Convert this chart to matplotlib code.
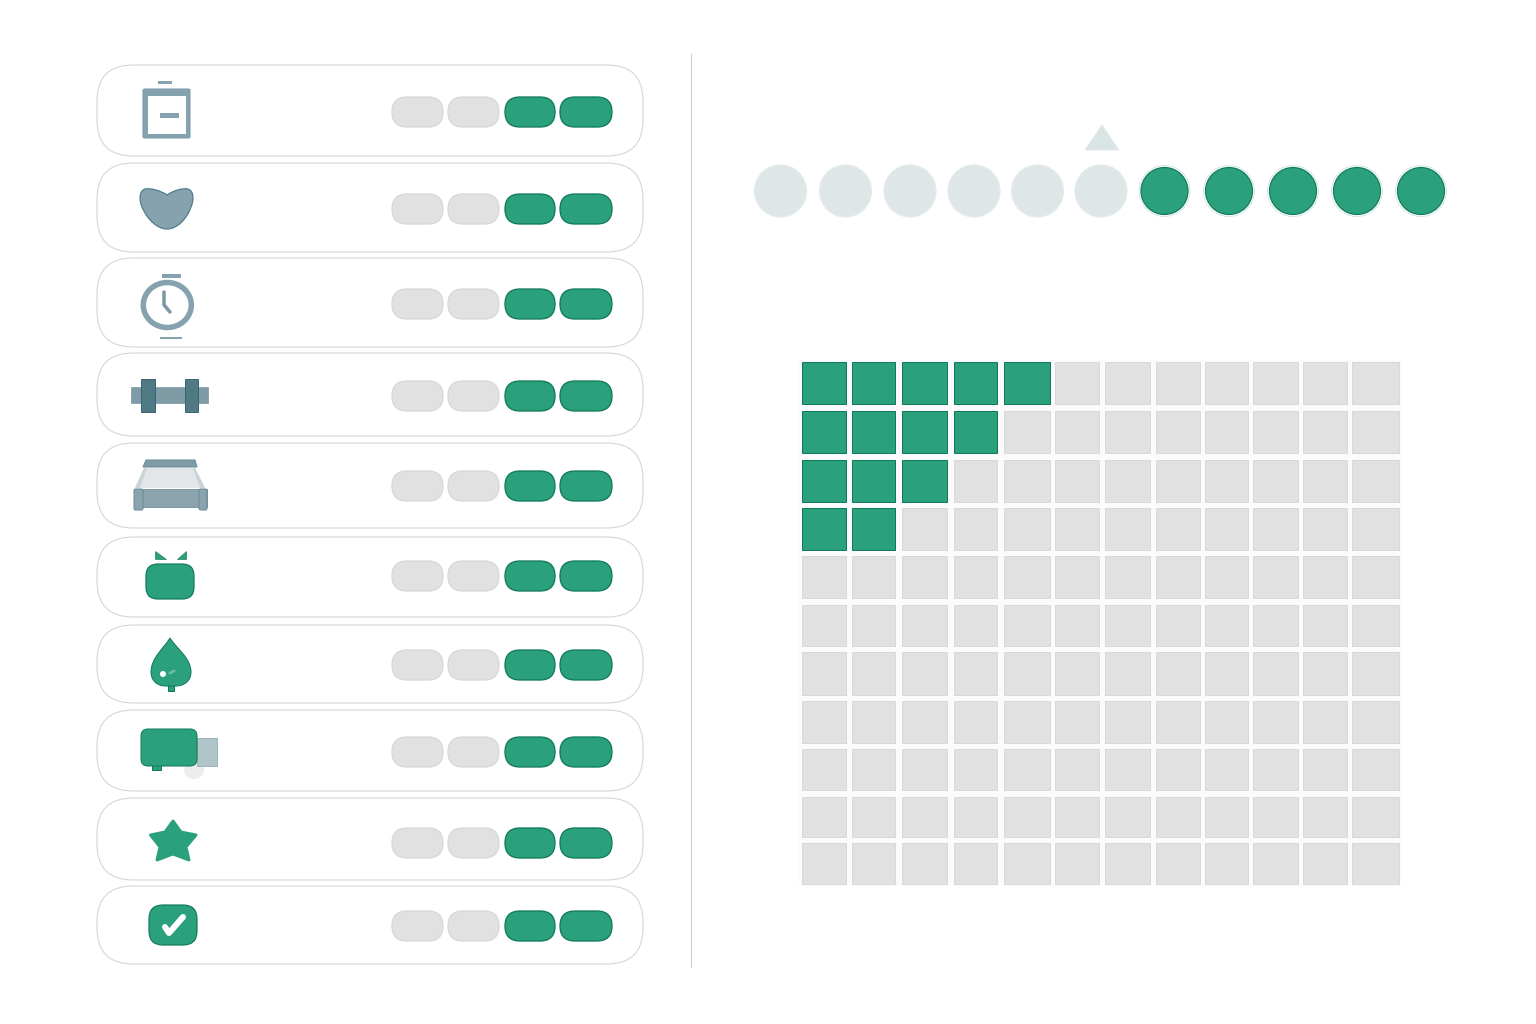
import matplotlib
matplotlib.use('Agg')
import matplotlib.pyplot as plt
from matplotlib.patches import Circle, FancyBboxPatch, PathPatch, Polygon, Rectangle, Ellipse
from matplotlib.path import Path

# rows of the left panel: state of each pill (0 = empty, 1 = filled)
pill_states = [0, 0, 1, 1]
n_rows = 10

# dot strip: 6 empty then 5 filled, marker above the last empty one
dot_states = [0, 0, 0, 0, 0, 0, 1, 1, 1, 1, 1]
marker_index = 5

# filled cells per row in the waffle grid
waffle_filled = [5, 4, 3, 2, 0, 0, 0, 0, 0, 0, 0]
waffle_cols = 12

# layout, in reference pixels
card_tops = [65, 163, 258, 353, 443, 537, 625, 710, 798, 886]
card_bottoms = [156, 252, 347, 436, 528, 617, 703, 791, 880, 964]
pill_centers = [112, 209, 304, 396, 486, 576, 665, 752, 843, 926]
pill_lefts = [392, 448, 505, 560]
pill_rights = [443, 499, 555, 612]
dot_xs = [780.5, 845.5, 910, 974, 1037.5, 1101, 1164.5, 1229, 1293, 1357, 1421]
col_lefts = [801.5, 852, 901.5, 954, 1003.5, 1055, 1105, 1156, 1205, 1253, 1303, 1352]
col_rights = [845.5, 895, 946.5, 997, 1049.5, 1099, 1150, 1200, 1248, 1298, 1347, 1399]
row_tops = [362, 411, 460, 508, 556, 605, 652, 701, 749, 797, 843]
row_bottoms = [404, 453, 501.5, 550, 598, 646, 695, 743, 790, 837, 884]

GREEN = '#2ba07d'
GREEN_EDGE = '#0f7a5a'
GREY = '#e1e1e1'
GREY_EDGE = '#d8d8d8'
SLATE = '#86a2ae'
SLATE_EDGE = '#7b99a5'
DARK_SLATE = '#527b87'
PALE = '#dfe6e8'
PX = 0.72  # one pixel in points at dpi=100

fig = plt.figure(figsize=(15.36, 10.24), dpi=100)
ax = fig.add_axes([0, 0, 1, 1])
ax.set_xlim(0, 1536)
ax.set_ylim(1024, 0)
ax.axis('off')


def rounded(x0, y0, x1, y1, r, fc, ec, lw=1.0, **kw):
    ax.add_patch(FancyBboxPatch((x0 + r, y0 + r), x1 - x0 - 2 * r, y1 - y0 - 2 * r,
                                boxstyle='round,pad=%f,rounding_size=%f' % (r, r),
                                fc=fc, ec=ec, lw=lw * PX, **kw))


def rect(x0, y0, x1, y1, fc, ec='none', lw=1.0):
    ax.add_patch(Rectangle((x0, y0), x1 - x0, y1 - y0, fc=fc, ec=ec, lw=lw * PX))


def poly(points, fc, ec='none', lw=1.0, **kw):
    ax.add_patch(Polygon(points, closed=True, fc=fc, ec=ec, lw=lw * PX, **kw))


def curve(verts, codes, fc, ec, lw=1.0):
    ax.add_patch(PathPatch(Path(verts, codes), fc=fc, ec=ec, lw=lw * PX))


M, L, C4, Z = Path.MOVETO, Path.LINETO, Path.CURVE4, Path.CLOSEPOLY


def icon_box():
    rounded(143, 89, 190, 138, 1.5, SLATE, SLATE_EDGE)
    rect(148, 96, 186, 134, 'white')
    rect(160, 113, 179, 118, SLATE)
    rect(158, 81, 172, 83.5, SLATE)


def icon_heart():
    verts = [(167, 195), (160, 190), (150, 188), (145, 189),
             (139, 191), (139, 200), (142, 207),
             (147, 219), (157, 229), (167, 229),
             (177, 229), (187, 219), (191, 207),
             (194, 200), (194, 191), (188, 189),
             (183, 188), (174, 190), (167, 195), (167, 195)]
    codes = [M, C4, C4, C4, C4, C4, C4, C4, C4, C4, C4, C4, C4, C4, C4, C4, C4, C4, C4, Z]
    curve(verts, codes, SLATE, '#4f7a88', 1.2)


def icon_clock():
    ax.add_patch(Ellipse((167.3, 305), 48, 45, fc='white', ec=SLATE, lw=5.5 * PX))
    rect(162, 274, 181, 278, SLATE)
    rect(160, 337, 182, 339, SLATE)
    ax.plot([164, 164, 170], [292, 305, 312], color=SLATE_EDGE, lw=3.5 * PX,
            solid_capstyle='round', solid_joinstyle='round')


def icon_dumbbell():
    rect(131, 387, 208, 403, '#7f9ba5', '#6f8e99', 0.6)
    rect(141, 379, 155, 412, '#4f7a84', '#3d6673')
    rect(185, 379, 198, 412, '#4f7a84', '#3d6673')


def icon_bed():
    poly([(144, 468), (195, 468), (205, 488), (135, 488)], '#e2e6e8')
    poly([(146, 460), (195, 460), (197, 467), (143, 467)], '#7f9ba6', '#6a8d9a')
    poly([(144, 468), (147, 468), (140, 488), (135, 488)], '#c9d3d6')
    poly([(195, 468), (193, 468), (200, 488), (205, 488)], '#c9d3d6')
    rect(134, 489, 207, 507, '#8aa3ad', SLATE_EDGE)
    rounded(134, 489, 143, 510, 1.5, '#8aa3ad', '#6a8d9a')
    rounded(199, 489, 207, 510, 1.5, '#8aa3ad', '#6a8d9a')


def icon_tv():
    rounded(146, 564, 194, 599, 12, GREEN, GREEN_EDGE, 1.2)
    poly([(155, 551), (155, 559), (166, 559)], GREEN, GREEN_EDGE, 0.6)
    poly([(186, 551), (186, 559), (177, 559)], GREEN, GREEN_EDGE, 0.6)


def icon_drop():
    rect(168, 682, 174, 691, GREEN, GREEN_EDGE)
    verts = [(170, 638), (164, 648), (151, 658), (151, 672),
             (151, 681), (158, 686), (165, 686),
             (168, 686), (172, 686), (176, 686),
             (184, 686), (191, 681), (191, 672),
             (191, 658), (176, 648), (170, 638), (170, 638)]
    codes = [M, C4, C4, C4, C4, C4, C4, C4, C4, C4, C4, C4, C4, C4, C4, C4, Z]
    curve(verts, codes, GREEN, GREEN_EDGE, 1.0)
    ax.add_patch(Circle((163, 674), 3, fc='white', ec='none'))
    ax.add_patch(Ellipse((172, 672), 8, 3, angle=-25, fc='#6dbda4', ec='none'))


def icon_truck():
    ax.add_patch(Ellipse((194, 770), 20, 18, fc='#ededed', ec='none'))
    rect(152, 760, 161, 770, GREEN, GREEN_EDGE)
    rect(197, 738, 217, 766, '#afc5c9', '#9db4b8')
    rounded(141, 729, 197, 766, 7, GREEN, GREEN_EDGE)


def icon_star():
    pts = [(173, 821), (181, 832), (196, 835), (186, 847), (189, 860), (173, 854),
           (157, 860), (160, 847), (150.5, 835), (165, 832)]
    poly(pts, GREEN, GREEN, 3, joinstyle='round')


def icon_check():
    rounded(149, 905, 197, 945, 14, GREEN, GREEN_EDGE, 1.2)
    ax.plot([165, 169, 183], [927, 933, 917], color='white', lw=6 * PX,
            solid_capstyle='round', solid_joinstyle='round')


icons = [icon_box, icon_heart, icon_clock, icon_dumbbell, icon_bed,
         icon_tv, icon_drop, icon_truck, icon_star, icon_check]

# left panel
for i in range(n_rows):
    rounded(97, card_tops[i], 643, card_bottoms[i], 36, 'white', '#d6d6d6', 1.1)
    for j, state in enumerate(pill_states):
        fc, ec = (GREEN, GREEN_EDGE) if state else (GREY, GREY_EDGE)
        rounded(pill_lefts[j], pill_centers[i] - 15, pill_rights[j], pill_centers[i] + 15,
                15, fc, ec, 1.3)
    icons[i]()

# divider
ax.plot([691, 691], [54, 967], color='#cfcfcf', lw=1.2 * PX)

# dot strip
for x, state in zip(dot_xs, dot_states):
    if state:
        ax.add_patch(Circle((x, 191), 25.5, fc='white', ec='#d5e8e2', lw=1 * PX))
        ax.add_patch(Circle((x, 191), 23.5, fc=GREEN, ec=GREEN_EDGE, lw=1.2 * PX))
    else:
        ax.add_patch(Circle((x, 191), 26, fc=PALE, ec='#e2ecea', lw=1.2 * PX))

mx = dot_xs[marker_index]
poly([(mx + 1, 125), (mx + 18, 150), (mx - 16, 150)], '#d9e5e5', '#e2ecea')

# waffle grid
rect(799, 360, 1401, 886, '#fbfbfb')
for r, filled in enumerate(waffle_filled):
    for c in range(waffle_cols):
        if c < filled:
            fc, ec = GREEN, GREEN_EDGE
        else:
            fc, ec = GREY, GREY_EDGE
        rect(col_lefts[c], row_tops[r], col_rights[c], row_bottoms[r], fc, ec, 1.0)

fig.savefig('out.png', dpi=100)
